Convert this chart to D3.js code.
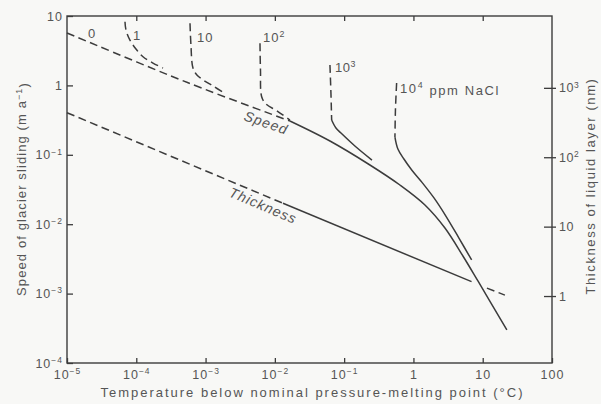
<!DOCTYPE html>
<html>
<head>
<meta charset="utf-8">
<script src="https://cdn.jsdelivr.net/npm/d3@7"></script>
<style>
  body { margin: 0; background: #f8f8f6; }
  svg { display: block; }
  text { font-family: "Liberation Sans", Arial, sans-serif; fill: #555; }
</style>
</head>
<body>
<div id="chartBox"></div>
<script>
(function () {
  'use strict';

  // temperature below pressure-melting point (deg C) / speed (m a-1)
  var speedT = [1e-5, 5.6e-4, 0.0165, 0.0624, 0.2355, 0.638, 1.466, 2.85, 5.18, 8.53, 22.3];
  var speedV = [5.7, 1.09, 0.307, 0.158, 0.0713, 0.0367, 0.0189, 0.0088, 0.00348, 0.00152, 0.0003];
  var speedSolidFrom = 2;

  // thickness of liquid layer (nm)
  var thickT = [1e-5, 0.0131, 6.9, 11.5, 20.9];
  var thickNm = [438, 21.7, 1.61, 1.30, 1.03];

  // salt curves (ppm NaCl)
  var salt1T = [6.87e-5, 7.1e-5, 8.1e-5, 9.9e-5, 1.25e-4, 1.74e-4, 2.43e-4];
  var salt1V = [8.28, 6.28, 4.5, 3.34, 2.59, 2.10, 1.78];
  var salt10T = [5.96e-4, 6.15e-4, 6.58e-4, 7.5e-4, 9.2e-4, 1.28e-3, 1.78e-3];
  var salt10V = [7.85, 3.82, 1.78, 1.41, 1.20, 0.98, 0.80];
  var salt100T = [6.1e-3, 6.2e-3, 6.45e-3, 7.45e-3, 0.0107, 0.0165];
  var salt100V = [4.05, 1.67, 0.687, 0.54, 0.43, 0.317];
  var salt1000T = [0.0624, 0.0646, 0.066, 0.0762, 0.090, 0.143, 0.252];
  var salt1000V = [1.97, 0.728, 0.317, 0.243, 0.206, 0.134, 0.084];
  var salt10000T = [0.572, 0.55, 0.541, 0.597, 0.729, 0.951, 1.28, 1.98, 2.94, 4.54, 6.92];
  var salt10000V = [1.08, 0.443, 0.180, 0.121, 0.087, 0.060, 0.042, 0.0239, 0.0131, 0.0063, 0.00305];

  var tempTicks = [1e-5, 1e-4, 1e-3, 1e-2, 1e-1, 1, 10, 100];
  var tempLabels = [["10", "\u22125"], ["10", "\u22124"], ["10", "\u22123"], ["10", "\u22122"],
                    ["10", "\u22121"], ["1", ""], ["10", ""], ["100", ""]];
  var speedTicks = [10, 1, 1e-1, 1e-2, 1e-3, 1e-4];
  var speedLabels = [["10", ""], ["1", ""], ["10", "\u22121"], ["10", "\u22122"], ["10", "\u22123"], ["10", "\u22124"]];
  var thickTicks = [1, 10, 100, 1000];
  var thickLabels = [["1", ""], ["10", ""], ["10", "2"], ["10", "3"]];

  var outerWidth = 601,
      outerHeight = 404,
      left = 67, right = 552, top = 16, bottom = 363,
      ink = "#3c3c3c";

  var svg = d3.select("#chartBox").append("svg")
    .attr("width", outerWidth)
    .attr("height", outerHeight);

  var x = d3.scaleLog().domain([1e-5, 100]).range([left, right]);
  var y = d3.scaleLog().domain([1e-4, 10]).range([bottom, top]);
  var yR = d3.scaleLog().domain([Math.pow(10, -0.965), Math.pow(10, 4.035)]).range([bottom, top]);

  function putLabel(sel, lab, supSize) {
    sel.text(null);
    sel.append("tspan").text(lab[0]);
    if (lab[1]) {
      sel.append("tspan")
        .attr("font-size", supSize)
        .attr("dy", "-0.55em")
        .text(lab[1]);
    }
  }

  // bottom axis
  var gB = svg.append("g")
    .attr("class", "x axis")
    .attr("transform", "translate(0," + bottom + ")")
    .call(d3.axisBottom(x).tickValues(tempTicks).tickSize(-5).tickSizeOuter(0).tickPadding(7).tickFormat(""));
  gB.selectAll(".tick text")
    .attr("font-size", 12.5)
    .attr("letter-spacing", 1)
    .each(function (d, i) { putLabel(d3.select(this), tempLabels[i], 8.5); });

  // top axis (ticks only)
  svg.append("g")
    .attr("class", "x2 axis")
    .attr("transform", "translate(0," + top + ")")
    .call(d3.axisTop(x).tickValues(tempTicks.slice(1, 7)).tickSize(-5).tickSizeOuter(0).tickFormat(""));

  // left axis
  var gL = svg.append("g")
    .attr("class", "y axis")
    .attr("transform", "translate(" + left + ",0)")
    .call(d3.axisLeft(y).tickValues(speedTicks).tickSize(-6).tickSizeOuter(0).tickPadding(4).tickFormat(""));
  gL.selectAll(".tick text")
    .attr("font-size", 12.5)
    .attr("letter-spacing", 1)
    .each(function (d, i) { putLabel(d3.select(this), speedLabels[i], 8.5); });

  // right axis, ticks crossing the frame
  var gR = svg.append("g")
    .attr("class", "y2 axis")
    .attr("transform", "translate(" + right + ",0)")
    .call(d3.axisRight(yR).tickValues(thickTicks).tickSize(4).tickSizeOuter(0).tickPadding(3).tickFormat(""));
  gR.selectAll(".tick line").attr("x1", -8);
  gR.selectAll(".tick text")
    .attr("font-size", 12.5)
    .attr("letter-spacing", 0.5)
    .each(function (d, i) { putLabel(d3.select(this), thickLabels[i], 8.5); });

  svg.selectAll(".axis .domain").remove();
  svg.selectAll(".axis .tick line").attr("stroke", ink).attr("stroke-width", 1.3);

  // frame
  svg.append("rect")
    .attr("x", left).attr("y", top)
    .attr("width", right - left).attr("height", bottom - top)
    .attr("fill", "none")
    .attr("stroke", ink)
    .attr("stroke-width", 1.4);

  // curves
  function piece(T, V, ys, from, to, dashed) {
    var pts = d3.zip(T, V).slice(from, to + 1);
    var line = d3.line()
      .x(function (d) { return x(d[0]); })
      .y(function (d) { return ys(d[1]); })
      .curve(d3.curveCatmullRom.alpha(0.5));
    svg.append("path")
      .datum(pts)
      .attr("class", "curve")
      .attr("d", line)
      .attr("fill", "none")
      .attr("stroke", ink)
      .attr("stroke-width", 1.5)
      .attr("stroke-dasharray", dashed ? "8,4.5" : null);
  }

  piece(speedT, speedV, y, 0, speedSolidFrom, true);
  piece(speedT, speedV, y, speedSolidFrom, speedT.length - 1, false);

  piece(thickT, thickNm, yR, 0, 1, true);
  piece(thickT, thickNm, yR, 1, 2, false);
  piece(thickT, thickNm, yR, 3, 4, true);

  piece(salt1T, salt1V, y, 0, salt1T.length - 1, true);
  piece(salt10T, salt10V, y, 0, salt10T.length - 1, true);
  piece(salt100T, salt100V, y, 0, salt100T.length - 1, true);
  piece(salt1000T, salt1000V, y, 0, 2, true);
  piece(salt1000T, salt1000V, y, 2, salt1000T.length - 1, false);
  piece(salt10000T, salt10000V, y, 0, 2, true);
  piece(salt10000T, salt10000V, y, 2, salt10000T.length - 1, false);

  // curve labels
  function note(px, py, lab, size, spacing) {
    var t = svg.append("text")
      .attr("x", px).attr("y", py)
      .attr("font-size", size)
      .attr("letter-spacing", spacing);
    putLabel(t, lab, size * 0.68);
    return t;
  }
  note(88, 38, ["0", ""], 13, 0);
  note(133, 40, ["1", ""], 13, 0);
  note(197, 42, ["10", ""], 13, 1);
  note(263, 42, ["10", "2"], 13, 1);
  note(335, 72, ["10", "3"], 13, 0.5);
  note(400, 93, ["10", "4"], 13, 1.6).append("tspan").attr("dy", "0.55em").text(" ppm NaCl");

  svg.append("text")
    .attr("transform", "translate(243,120) rotate(19)")
    .attr("font-size", 14)
    .attr("font-style", "italic")
    .attr("letter-spacing", 1)
    .text("Speed");
  svg.append("text")
    .attr("transform", "translate(228,196) rotate(23)")
    .attr("font-size", 14)
    .attr("font-style", "italic")
    .attr("letter-spacing", 1)
    .text("Thickness");

  // axis titles
  svg.append("text")
    .attr("x", (left + right) / 2 + 2).attr("y", 397)
    .attr("text-anchor", "middle")
    .attr("font-size", 13)
    .attr("textLength", 422)
    .attr("lengthAdjust", "spacing")
    .text("Temperature below nominal pressure-melting point (\u00b0C)");

  var yt = svg.append("text")
    .attr("transform", "translate(26,189) rotate(-90)")
    .attr("text-anchor", "middle")
    .attr("font-size", 13)
    .attr("letter-spacing", 1.1);
  yt.append("tspan").text("Speed of glacier sliding (m a");
  yt.append("tspan").attr("font-size", 9).attr("dy", "-0.5em").text("\u22121");
  yt.append("tspan").attr("dy", "0.5em").text(")");

  svg.append("text")
    .attr("transform", "translate(595,186) rotate(-90)")
    .attr("text-anchor", "middle")
    .attr("font-size", 13)
    .attr("letter-spacing", 1.6)
    .text("Thickness of liquid layer  (nm)");
})();
</script>
</body>
</html>
